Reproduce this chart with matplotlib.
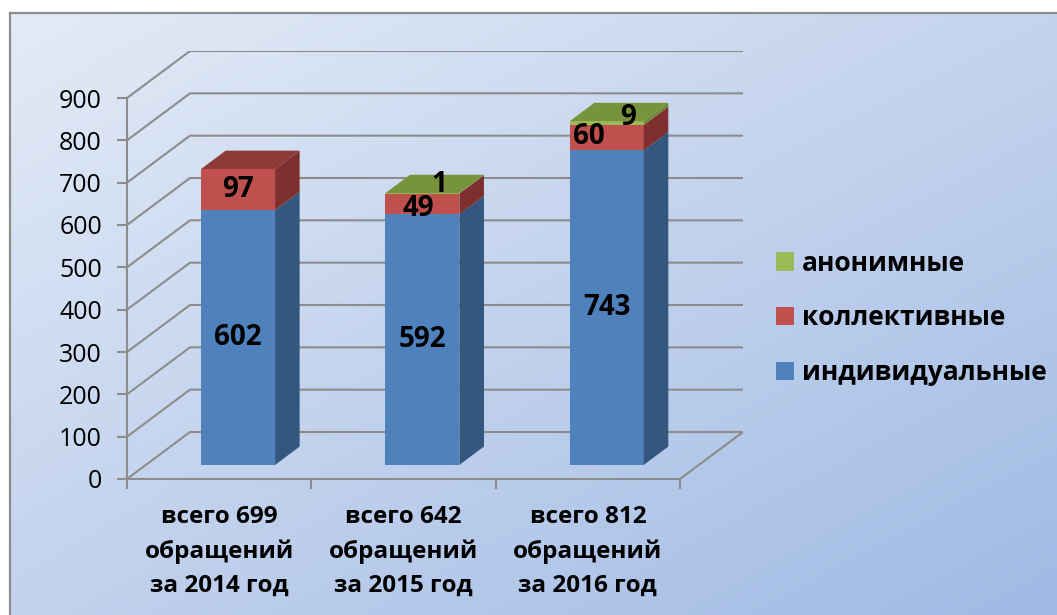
import numpy as np
import matplotlib.pyplot as plt
from matplotlib.patches import Polygon, Patch

plt.rcParams['font.family'] = ['Open Sans', 'DejaVu Sans']

# данные
categories = ['всего 699\nобращений\nза 2014 год',
              'всего 642\nобращений\nза 2015 год',
              'всего 812\nобращений\nза 2016 год']
individual = [602, 592, 743]
collective = [97, 49, 60]
anonymous = [0, 1, 9]
series_names = ['индивидуальные', 'коллективные', 'анонимные']
yticks = list(range(0, 901, 100))

series = [individual, collective, anonymous]
# цвета: лицевая грань, боковая, верхняя
colors = [('#4F81BD', '#34567F', '#3E6696'),
          ('#C0504D', '#7F302E', '#8E3A38'),
          ('#9BBB59', '#6E8A36', '#77933C')]
# сдвиги подписей (в пунктах) для мелких сегментов
nudge = {(1, 1): (-3, -3), (1, 2): (-13, 1), (2, 1): (12, 6), (2, 2): (15, 4)}

W, H = 1057, 615
fig = plt.figure(figsize=(W / 100, H / 100), dpi=100)
fig.patch.set_facecolor('white')

# фон с градиентом
bg = fig.add_axes([0, 0, 1, 1])
bg.set_xlim(0, W)
bg.set_ylim(H, 0)
bg.axis('off')
u = np.linspace(0, 1, 200)[None, :, None]
v = np.linspace(0, 1, 120)[:, None, None]
tl = np.array([0.890, 0.921, 0.965])
tr = np.array([0.769, 0.831, 0.933])
bl = np.array([0.761, 0.824, 0.933])
br = np.array([0.627, 0.729, 0.894])
grad = (tl * (1 - u) * (1 - v) + tr * u * (1 - v) + bl * (1 - u) * v + br * u * v)
bg.imshow(grad, extent=(9, W, H, 12), aspect='auto', interpolation='bilinear')
bg.plot([9.5, 9.5], [H, 12.5], color='#8C8C8C', lw=1.6)
bg.plot([9.5, W], [12.5, 12.5], color='#8C8C8C', lw=1.6)

# основная область
px_cat = (680 - 127) / 3
px_val = (479 - 98) / 900
DX = 63 / px_cat
DY = 47 / px_val
ax = fig.add_axes([127 / W, (H - 479) / H, (743 - 127) / W, (479 - 51) / H])
ax.set_facecolor('none')
ax.set_xlim(-0.5, 2.5 + DX)
ax.set_ylim(0, 900 + DY)

grid_c = '#8C8C8C'
for t in yticks:
    ax.plot([-0.5, -0.5 + DX, 2.5 + DX], [t, t + DY, t + DY], color=grid_c, lw=1.5, zorder=1)
ax.plot([2.5, 2.5 + DX], [0, DY], color=grid_c, lw=1.5, zorder=1)

for s in ['top', 'right']:
    ax.spines[s].set_visible(False)
for s in ['left', 'bottom']:
    ax.spines[s].set_color(grid_c)
    ax.spines[s].set_linewidth(1.5)
ax.spines['left'].set_bounds(0, 900)
ax.spines['bottom'].set_bounds(-0.5, 2.5)

ax.set_yticks(yticks)
ax.tick_params(axis='y', direction='out', length=7, width=1.5, color=grid_c,
               labelsize=18, pad=11)
ax.set_xticks(range(len(categories)))
ax.set_xticklabels(categories, fontsize=17.5, fontweight='bold', linespacing=1.55)
ax.set_xticks([-0.5, 0.5, 1.5, 2.5], minor=True)
ax.tick_params(axis='x', which='major', length=0, pad=19)
ax.tick_params(axis='x', which='minor', direction='out', length=7, width=1.5, color=grid_c)

# 3D-столбики
F0, FD = 0.30, 0.39
bw = 74 / px_cat
for i in range(len(categories)):
    base = 0
    top_k = max(k for k in range(3) if series[k][i] > 0)
    for k in range(3):
        val = series[k][i]
        if val <= 0:
            continue
        x0 = i - bw / 2 + F0 * DX
        x1 = x0 + bw
        y0 = base + F0 * DY
        y1 = y0 + val
        dx, dy = FD * DX, FD * DY
        front, side, topc = colors[k]
        ax.add_patch(Polygon([(x0, y0), (x1, y0), (x1, y1), (x0, y1)],
                             closed=True, fc=front, ec='none', zorder=3))
        ax.add_patch(Polygon([(x1, y0), (x1 + dx, y0 + dy), (x1 + dx, y1 + dy), (x1, y1)],
                             closed=True, fc=side, ec='none', zorder=3))
        if k == top_k:
            ax.add_patch(Polygon([(x0, y1), (x1, y1), (x1 + dx, y1 + dy), (x0 + dx, y1 + dy)],
                                 closed=True, fc=topc, ec='none', zorder=3))
        off = nudge.get((k, i), (0, 0))
        ax.annotate(str(val), (i + F0 * DX, y0 + val / 2), xytext=off,
                    textcoords='offset points', ha='center', va='center',
                    fontsize=20, fontweight='bold', color='black', zorder=5)
        base += val

# легенда
handles = [Patch(fc=colors[k][0], ec='none') for k in (2, 1, 0)]
labels = [series_names[k] for k in (2, 1, 0)]
fig.legend(handles, labels, loc='center left', bbox_to_anchor=(776 / W, (H - 318) / H),
           frameon=False, prop={'size': 19, 'weight': 'bold'},
           handlelength=0.68, handleheight=0.68, handletextpad=0.3,
           labelspacing=1.05, borderpad=0, borderaxespad=0)

fig.savefig('out.png', dpi=100)
